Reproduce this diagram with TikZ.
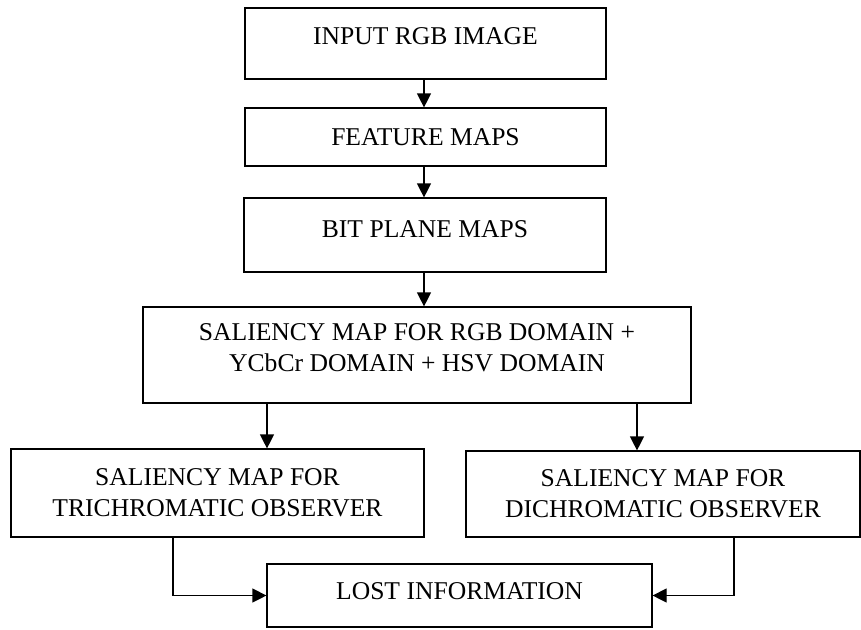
\documentclass[tikz,border=0pt]{standalone}
\usepackage{fontspec}
\setmainfont{Liberation Serif}
\usetikzlibrary{arrows.meta}

\begin{document}
\begin{tikzpicture}[x=0.5pt, y=-0.5pt,
	every node/.style={font=\fontsize{12.8}{15.5}\selectfont},
	box/.style={draw, line width=0.6pt, align=center, inner sep=0pt},
	flow/.style={-{Triangle[length=7pt,width=7pt]}, line width=0.6pt}]

		\useasboundingbox (0,0) rectangle (861,629);

%		\draw [step=50, gray, thin, opacity=0.5] (0,0) grid (861,629);

		\node[box, minimum width=180.5pt, minimum height=35.5pt, text depth=7pt] (input) at (425.5,43.5) {INPUT RGB IMAGE};
		\node[box, minimum width=180.5pt, minimum height=29pt] (feature) at (425.5,137) {FEATURE MAPS};
		\node[box, minimum width=181pt, minimum height=37pt, text depth=5.5pt] (bitplane) at (425,235) {BIT PLANE MAPS};
		\node[box, minimum width=274pt, minimum height=48pt, text depth=7pt] (saliency) at (417,355) {SALIENCY MAP FOR RGB DOMAIN +\\ YCbCr DOMAIN + HSV DOMAIN};
		\node[box, minimum width=206.5pt, minimum height=44pt] (trichro) at (217.5,493) {SALIENCY MAP FOR\\ TRICHROMATIC OBSERVER};
		\node[box, minimum width=197pt, minimum height=43pt] (dichro) at (663,494) {SALIENCY MAP FOR\\ DICHROMATIC OBSERVER};
		\node[box, minimum width=192.5pt, minimum height=31.5pt, text depth=4.5pt] (lost) at (459.5,595.5) {LOST INFORMATION};

		\draw[flow] ([xshift=-0.75pt]input.south) -- ([xshift=-0.75pt]feature.north);
		\draw[flow] ([xshift=-0.75pt]feature.south) -- ([xshift=-0.75pt]feature.south |- bitplane.north);
		\draw[flow] ([xshift=-0.5pt]bitplane.south) -- ([xshift=-0.5pt]bitplane.south |- saliency.north);

		\draw[flow] ([xshift=-75pt]saliency.south) -- ([xshift=-75pt]saliency.south |- trichro.north);
		\draw[flow] ([xshift=110pt]saliency.south) -- ([xshift=110pt]saliency.south |- dichro.north);

		\draw[flow] ([xshift=-22.25pt]trichro.south) |- (lost.west);
		\draw[flow] ([xshift=35.5pt]dichro.south) |- (lost.east);

	\end{tikzpicture}
\end{document}
